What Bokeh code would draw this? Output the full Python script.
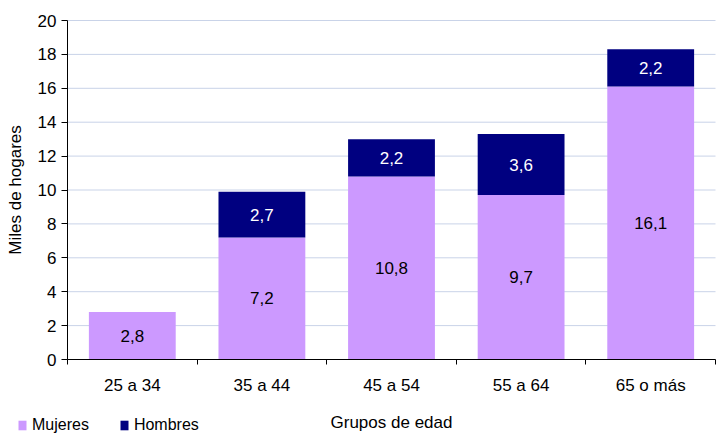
from bokeh.plotting import figure
from bokeh.models import (ColumnDataSource, Range1d, FixedTicker, Legend,
                          LegendItem, LabelSet)
from bokeh.core.properties import value
from bokeh.embed import file_html
from bokeh.resources import INLINE

categories = ["25 a 34", "35 a 44", "45 a 54", "55 a 64", "65 o más"]
mujeres = [2.8, 7.2, 10.8, 9.7, 16.1]
hombres = [0.0, 2.7, 2.2, 3.6, 2.2]
y_ticks = [0, 2, 4, 6, 8, 10, 12, 14, 16, 18, 20]

FONT = "Liberation Sans"
FS = "17px"
FS_LEG = "16px"
C_MUJ = "#CC99FF"
C_HOM = "#000080"
GRID = "#C9D3E8"

W, H = 716, 434
# page pixel positions of the plotting area (layout only)
PX_L, PX_R, PX_T, PX_B = 67, 715, 20, 359
X0, X1, Y0, Y1 = 0.5, len(categories) + 0.5, y_ticks[0], y_ticks[-1]
sx = (PX_R - PX_L) / (X1 - X0)
sy = (PX_B - PX_T) / (Y1 - Y0)
x_range = Range1d(X0 - PX_L / sx, X1 + (W - PX_R) / sx)
y_range = Range1d(Y0 - (H - PX_B) / sy, Y1 + PX_T / sy)

xs = list(range(1, len(categories) + 1))
tops = [m + h for m, h in zip(mujeres, hombres)]

src = ColumnDataSource(dict(x=xs, muj=mujeres, hom=hombres, top=tops,
                            zero=[0] * len(xs)))

p = figure(width=W, height=H, x_range=x_range, y_range=y_range,
           output_backend="svg", toolbar_location=None,
           min_border_left=0, min_border_top=0, min_border_right=0,
           min_border_bottom=0)
p.outline_line_color = None
p.background_fill_color = "white"
p.border_fill_color = "white"
p.xgrid.visible = False
p.ygrid.visible = False

# horizontal grid lines across the bar area
p.segment(x0=[X0] * len(y_ticks), x1=[X1] * len(y_ticks), y0=y_ticks,
          y1=y_ticks, line_color=GRID, line_width=1)

r1 = p.vbar(x="x", bottom="zero", top="muj", width=0.67, source=src,
            fill_color=C_MUJ, line_color=None)
r2 = p.vbar(x="x", bottom="muj", top="top", width=0.67, source=src,
            fill_color=C_HOM, line_color=None)

# value labels
lab_m = ColumnDataSource(dict(x=xs, y=[m / 2 for m in mujeres],
                              t=[f"{m:.1f}".replace(".", ",") for m in mujeres]))
hx, hy, ht = [], [], []
for xi, m, h in zip(xs, mujeres, hombres):
    if h > 0:
        hx.append(xi)
        hy.append(m + h / 2)
        ht.append(f"{h:.1f}".replace(".", ","))
lab_h = ColumnDataSource(dict(x=hx, y=hy, t=ht))

p.add_layout(LabelSet(x="x", y="y", text="t", source=lab_m,
                      text_align="center", text_baseline="middle",
                      text_font=value(FONT), text_font_size=value(FS),
                      text_color="black"))
p.add_layout(LabelSet(x="x", y="y", text="t", source=lab_h,
                      text_align="center", text_baseline="middle",
                      text_font=value(FONT), text_font_size=value(FS),
                      text_color="white"))

# y axis (drawn at x = 0.5)
ya = p.yaxis[0]
ya.fixed_location = X0
ya.bounds = (Y0, Y1)
ya.ticker = FixedTicker(ticks=y_ticks)
ya.axis_label = "Miles de hogares"
ya.axis_label_text_font = FONT
ya.axis_label_text_font_size = FS
ya.axis_label_text_font_style = "normal"
ya.axis_label_text_color = "black"
ya.axis_label_standoff = 10
ya.major_label_text_font = FONT
ya.major_label_text_font_size = FS
ya.major_label_text_color = "black"
ya.major_label_standoff = 5
ya.major_tick_out = 6
ya.major_tick_in = 0
ya.minor_tick_out = 0
ya.minor_tick_in = 0
ya.axis_line_color = "black"
ya.major_tick_line_color = "black"

# x axis (drawn at y = 0)
xa = p.xaxis[0]
xa.fixed_location = Y0
xa.bounds = (X0, X1)
xa.ticker = FixedTicker(ticks=xs, minor_ticks=[x - 0.5 for x in xs] + [xs[-1] + 0.5])
xa.major_label_overrides = {x: c for x, c in zip(xs, categories)}
xa.axis_label = "Grupos de edad"
xa.axis_label_text_font = FONT
xa.axis_label_text_font_size = FS
xa.axis_label_text_font_style = "normal"
xa.axis_label_text_color = "black"
xa.axis_label_standoff = 15
xa.major_label_text_font = FONT
xa.major_label_text_font_size = FS
xa.major_label_text_color = "black"
xa.major_label_standoff = 11
xa.major_tick_out = 0
xa.major_tick_in = 0
xa.minor_tick_out = 5
xa.minor_tick_in = 0
xa.axis_line_color = "black"
xa.minor_tick_line_color = "black"

legend = Legend(items=[LegendItem(label="Mujeres", renderers=[r1]),
                       LegendItem(label="Hombres", renderers=[r2])],
                orientation="horizontal", location=(17, 0),
                glyph_width=10, glyph_height=12, label_standoff=5,
                spacing=30, padding=0, margin=0,
                label_text_font=FONT, label_text_font_size=FS_LEG,
                label_text_color="black",
                border_line_color=None, background_fill_alpha=0)
p.add_layout(legend, "center")

open("out.html", "w").write(file_html(p, INLINE))
